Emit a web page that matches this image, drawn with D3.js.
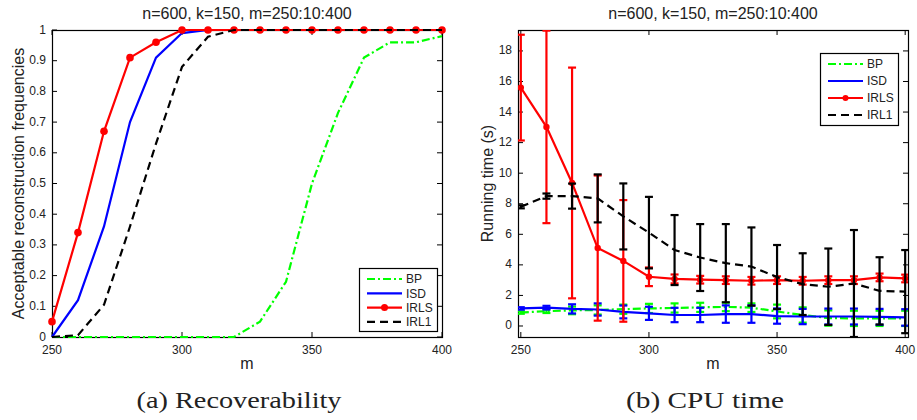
<!DOCTYPE html>
<html><head><meta charset="utf-8">
<script src="https://cdn.jsdelivr.net/npm/d3@7"></script>
<style>body{margin:0;background:#fff}svg{display:block}</style>
</head><body>
<svg id="c" width="917" height="420"></svg>
<script>
// ---------- data ----------
const mValues = [250,260,270,280,290,300,310,320,330,340,350,360,370,380,390,400];
const titleText = "n=600, k=150, m=250:10:400";
const seriesNames = ["BP","ISD","IRLS","IRL1"];
const seriesColors = ["#00ff00","#0000ff","#ff0000","#000000"];

// (a) recoverability
const recBP   = [0,0,0,0,0,0,0,0,0.05,0.18,0.50,0.73,0.91,0.96,0.96,0.98];
const recISD  = [0,0.12,0.36,0.70,0.91,0.99,1,1,1,1,1,1,1,1,1,1];
const recIRLS = [0.05,0.34,0.67,0.91,0.96,1,1,1,1,1,1,1,1,1,1,1];
const recIRL1 = [0,0.006,0.105,0.36,0.63,0.88,0.978,1,1,1,1,1,1,1,1,1];
const recYTicks = [0,0.1,0.2,0.3,0.4,0.5,0.6,0.7,0.8,0.9,1];
const xTicks = [250,300,350,400];

// (b) CPU time: means and error half-widths
const timeBP      = [0.88,0.97,1.02,1.05,1.10,1.15,1.18,1.22,1.25,1.2,0.95,0.72,0.52,0.50,0.50,0.50];
const timeBPErr   = [0.08,0.12,0.25,0.30,0.30,0.30,0.30,0.30,0.28,0.28,0.45,0.50,0.50,0.50,0.50,0.50];
const timeISD     = [1.15,1.20,1.12,1.08,0.92,0.83,0.72,0.72,0.78,0.78,0.65,0.62,0.62,0.62,0.60,0.56];
const timeISDErr  = [0.08,0.12,0.30,0.40,0.42,0.43,0.47,0.47,0.57,0.57,0.50,0.50,0.52,0.52,0.52,0.54];
const timeIRLS    = [15.6,13.03,9.36,5.1,4.26,3.22,3.08,3.03,3.0,2.96,3.0,2.96,3.0,3.0,3.18,3.11];
const timeIRLSErr = [3.46,6.3,7.55,4.75,3.98,0.61,0.29,0.25,0.25,0.25,0.25,0.25,0.25,0.25,0.25,0.25];
const timeIRL1    = [7.8,8.5,8.5,8.35,7.17,6.11,4.97,4.48,4.11,3.89,3.2,2.74,2.57,2.78,2.3,2.25];
const timeIRL1Err = [0.1,0.17,0.82,1.57,2.16,2.34,2.29,2.19,2.56,2.56,2.1,2.02,2.5,3.5,2.2,2.72];
const timeYTicks = [0,2,4,6,8,10,12,14,16,18];

const yLabelA = "Acceptable reconstruction frequencies";
const yLabelB = "Running time (s)";
const xLabel = "m";
const captionA = "(a) Recoverability";
const captionB = "(b) CPU time";

// ---------- drawing ----------
const svg = d3.select("#c");
const sans = "'Liberation Sans', Arial, Helvetica, sans-serif";
const serif = "'Liberation Serif', 'Times New Roman', serif";
const dashFor = ["8,3,2,3", null, null, "8,5"];

function frame(g, x, y, xt, yt, yfmt) {
  const [x0,x1] = x.range(), [y1,y0] = y.range();
  const tl = 5;
  xt.forEach(v => {
    g.append("line").attr("x1",x(v)).attr("x2",x(v)).attr("y1",y1).attr("y2",y1-tl).attr("stroke","#000");
    g.append("line").attr("x1",x(v)).attr("x2",x(v)).attr("y1",y0).attr("y2",y0+tl).attr("stroke","#000");
    g.append("text").attr("x",x(v)).attr("y",y1+17).attr("text-anchor","middle")
      .attr("font-family",sans).attr("font-size",12).attr("fill","#222").text(v);
  });
  yt.forEach(v => {
    g.append("line").attr("x1",x0).attr("x2",x0+tl).attr("y1",y(v)).attr("y2",y(v)).attr("stroke","#000");
    g.append("line").attr("x1",x1).attr("x2",x1-tl).attr("y1",y(v)).attr("y2",y(v)).attr("stroke","#000");
    g.append("text").attr("x",x0-6).attr("y",y(v)+3.5).attr("text-anchor","end")
      .attr("font-family",sans).attr("font-size",12).attr("fill","#222").text(yfmt(v));
  });
  g.append("rect").attr("x",x0+0.5).attr("y",y0+0.5).attr("width",x1-x0).attr("height",y1-y0)
    .attr("fill","none").attr("stroke","#000").attr("stroke-width",1.2);
}

function labels(g, x, y, ylab, ylabX, caption, captionW) {
  const [x0,x1] = x.range(), [y1,y0] = y.range();
  const cx = (x0+x1)/2;
  g.append("text").attr("x",cx).attr("y",19).attr("text-anchor","middle")
    .attr("font-family",sans).attr("font-size",16).attr("fill","#222").text(titleText);
  g.append("text").attr("x",cx).attr("y",369).attr("text-anchor","middle")
    .attr("font-family",sans).attr("font-size",16).attr("fill","#222").text(xLabel);
  g.append("text").attr("transform",`translate(${ylabX},${(y0+y1)/2}) rotate(-90)`)
    .attr("text-anchor","middle").attr("dy","0.35em")
    .attr("font-family",sans).attr("font-size",16).attr("fill","#222").text(ylab);
  g.append("text").attr("x",cx-8).attr("y",408).attr("text-anchor","middle")
    .attr("font-family",serif).attr("font-size",23).attr("fill","#222")
    .attr("textLength",captionW).attr("lengthAdjust","spacingAndGlyphs").text(caption);
}

function legend(g, lx, ly, w, h, step, lineX0, lineX1, markerR) {
  g.append("rect").attr("x",lx+0.5).attr("y",ly+0.5).attr("width",w).attr("height",h)
    .attr("fill","#fff").attr("stroke","#000").attr("stroke-width",1.2);
  seriesNames.forEach((n,i) => {
    const yy = ly + 11 + i*step;
    g.append("line").attr("x1",lineX0).attr("x2",lineX1).attr("y1",yy).attr("y2",yy)
      .attr("stroke",seriesColors[i]).attr("stroke-width",2.2)
      .attr("stroke-dasharray",dashFor[i]);
    if (i===2) g.append("circle").attr("cx",(lineX0+lineX1)/2).attr("cy",yy).attr("r",markerR).attr("fill",seriesColors[i]);
    g.append("text").attr("x",lineX1+4).attr("y",yy+4.3).attr("font-family",sans)
      .attr("font-size",12).attr("fill","#222").text(n);
  });
}

// ---- panel (a) ----
{
  const g = svg.append("g");
  const x = d3.scaleLinear().domain([250,400]).range([52,442]);
  const y = d3.scaleLinear().domain([0,1]).range([337,30]);
  frame(g, x, y, xTicks, recYTicks, d3.format("~g"));
  const line = d3.line().x((d,i)=>x(mValues[i])).y(d=>y(d));
  [recBP, recISD, recIRLS, recIRL1].forEach((arr,i) => {
    g.append("path").attr("d",line(arr)).attr("fill","none")
      .attr("stroke",seriesColors[i]).attr("stroke-width",2.2)
      .attr("stroke-dasharray",dashFor[i]);
    if (i===2) g.selectAll(null).data(arr).join("circle")
      .attr("cx",(d,j)=>x(mValues[j])).attr("cy",d=>y(d)).attr("r",3.8).attr("fill",seriesColors[i]);
  });
  legend(g, 359, 268, 78, 63, 14.3, 367, 402, 3.5);
  labels(g, x, y, yLabelA, 18, captionA, 205);
}

// ---- panel (b) ----
{
  const g = svg.append("g");
  const x = d3.scaleLinear().domain([248.9,401.1]).range([518,908]);
  const y = d3.scaleLinear().domain([-0.72,19.37]).range([337,30]);
  svg.append("defs").append("clipPath").attr("id","clipB").append("rect")
    .attr("x",518).attr("y",30).attr("width",390).attr("height",307);
  frame(g, x, y, xTicks, timeYTicks, d3.format("d"));
  const pg = g.append("g").attr("clip-path","url(#clipB)");
  const line = d3.line().x((d,i)=>x(mValues[i])).y(d=>y(d));
  const means = [timeBP, timeISD, timeIRLS, timeIRL1];
  const errs = [timeBPErr, timeISDErr, timeIRLSErr, timeIRL1Err];
  means.forEach((arr,i) => {
    const c = seriesColors[i];
    const eg = pg.append("g").attr("stroke",c).attr("stroke-width",2.2);
    arr.forEach((d,j) => {
      const xx = x(mValues[j]), lo = y(d-errs[i][j]), hi = y(d+errs[i][j]);
      eg.append("line").attr("x1",xx).attr("x2",xx).attr("y1",lo).attr("y2",hi);
      eg.append("line").attr("x1",xx-4).attr("x2",xx+4).attr("y1",lo).attr("y2",lo);
      eg.append("line").attr("x1",xx-4).attr("x2",xx+4).attr("y1",hi).attr("y2",hi);
    });
    pg.append("path").attr("d",line(arr)).attr("fill","none")
      .attr("stroke",c).attr("stroke-width",2.2).attr("stroke-dasharray",dashFor[i]);
    if (i===2) pg.selectAll(null).data(arr).join("circle")
      .attr("cx",(d,j)=>x(mValues[j])).attr("cy",d=>y(d)).attr("r",3.2).attr("fill",c);
  });
  legend(g, 820, 53, 78, 72, 17, 828, 863, 3);
  labels(g, x, y, yLabelB, 487, captionB, 158);
}
</script>
</body></html>
